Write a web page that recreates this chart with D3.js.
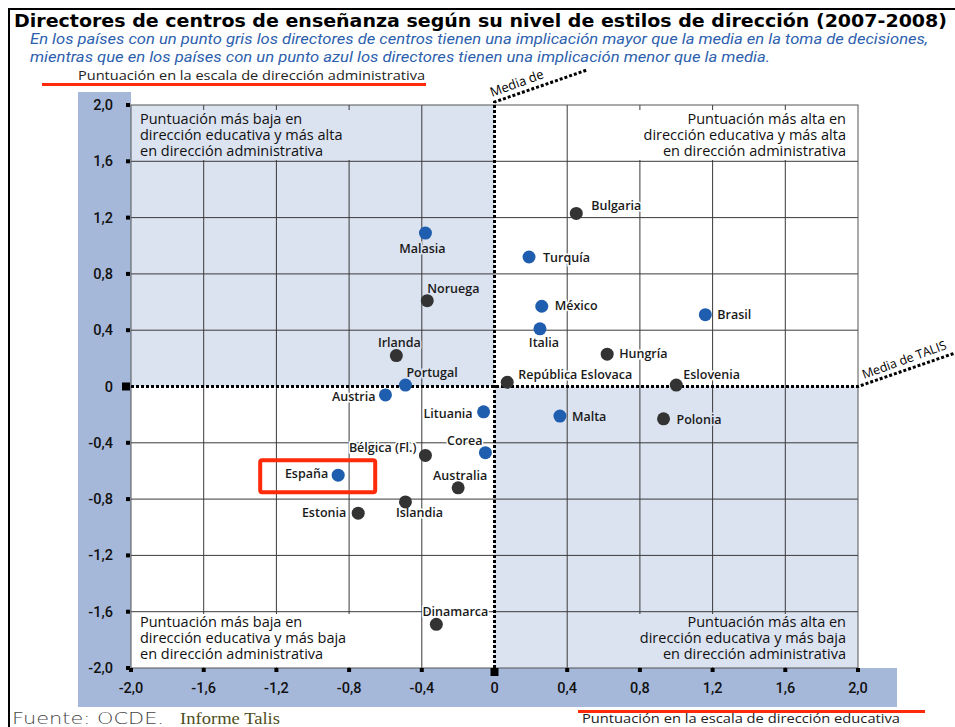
<!DOCTYPE html>
<html>
<head>
<meta charset="utf-8">
<script src="https://cdn.jsdelivr.net/npm/d3@7"></script>
<style>
  body { margin: 0; background: #fff; }
  svg { display: block; }
</style>
</head>
<body>
<script>
// datos (TALIS 2007-2008)
const paises = ["Bulgaria", "Malasia", "Turquía", "Noruega", "México", "Italia", "Brasil",
  "Irlanda", "Hungría", "Portugal", "República Eslovaca", "Eslovenia", "Austria", "Lituania",
  "Malta", "Polonia", "Corea", "Bélgica (Fl.)", "España", "Australia", "Islandia", "Estonia", "Dinamarca"];
const educativa = [0.45, -0.38, 0.19, -0.37, 0.26, 0.25, 1.16, -0.54, 0.62, -0.49, 0.07, 1.00,
  -0.60, -0.06, 0.36, 0.93, -0.05, -0.38, -0.86, -0.20, -0.49, -0.75, -0.32];
const administrativa = [1.23, 1.09, 0.92, 0.61, 0.57, 0.41, 0.51, 0.22, 0.23, 0.01, 0.03, 0.01,
  -0.06, -0.18, -0.21, -0.23, -0.47, -0.49, -0.63, -0.72, -0.82, -0.90, -1.69];
const punto = ["gris", "azul", "azul", "gris", "azul", "azul", "azul", "gris", "gris", "azul", "gris", "gris",
  "azul", "azul", "azul", "gris", "azul", "gris", "azul", "gris", "gris", "gris", "gris"];
const ticks = [-2, -1.6, -1.2, -0.8, -0.4, 0, 0.4, 0.8, 1.2, 1.6, 2];

// donde va cada etiqueta respecto al punto: [dx, dy, anchor]
const etiqueta = [[15, -3, "start"], [-3, 20, "middle"], [14, 5, "start"], [0, -8, "start"],
  [13, 4, "start"], [4, 18, "middle"], [12, 4, "start"], [3, -9, "middle"], [12, 4, "start"],
  [1, -8, "start"], [11, -3, "start"], [7, -6, "start"], [-10, 6, "end"], [-11, 6, "end"],
  [12, 5, "start"], [13, 5, "start"], [-3, -8, "end"], [-9, -3, "end"], [-10, 3, "end"],
  [2, -8, "middle"], [14, 15, "middle"], [-12, 4, "end"], [19, -8, "middle"]];

const W = 955, H = 727;
const azulClaro = "#dbe2f0", banda = "#a6b8da";
const fmt = v => v === 0 ? "0" : v.toFixed(1).replace(".", ",");

const svg = d3.select("body").append("svg")
  .attr("width", W).attr("height", H);

const x = d3.scaleLinear().domain([-2, 2]).range([131, 858]);
const y = d3.scaleLinear().domain([-2, 2]).range([668, 105]);

// marco
svg.append("path").attr("d", "M9,727V9H955").attr("fill", "none")
  .attr("stroke", "#000").attr("stroke-width", 2);

// bandas azules de los ejes
svg.append("rect").attr("x", 78).attr("y", 92).attr("width", x(-2) - 78).attr("height", 707 - 92)
  .attr("fill", banda);
svg.append("rect").attr("x", 78).attr("y", y(-2)).attr("width", 897 - 78).attr("height", 707 - y(-2))
  .attr("fill", banda);

// cuadrantes
const quad = [[-2, 0, 2, 0, azulClaro], [0, 2, 2, 0, "#fff"], [-2, 0, 0, -2, "#fff"], [0, 2, 0, -2, azulClaro]];
svg.selectAll("rect.q").data(quad).enter().append("rect").attr("class", "q")
  .attr("x", d => x(d[0])).attr("width", d => x(d[1]) - x(d[0]))
  .attr("y", d => y(d[2])).attr("height", d => y(d[3]) - y(d[2]))
  .attr("fill", d => d[4]);

// rejilla
const g = svg.append("g").attr("stroke", "#3a3a3a").attr("stroke-width", 1);
g.selectAll("line.v").data(ticks.filter(t => t !== 0 && Math.abs(t) < 2)).enter().append("line")
  .attr("x1", d => x(d)).attr("x2", d => x(d)).attr("y1", y(2)).attr("y2", y(-2));
g.selectAll("line.h").data(ticks.filter(t => t !== 0 && Math.abs(t) < 2)).enter().append("line")
  .attr("y1", d => y(d)).attr("y2", d => y(d)).attr("x1", x(-2)).attr("x2", x(2));
svg.append("rect").attr("x", x(-2)).attr("y", y(2)).attr("width", x(2) - x(-2)).attr("height", y(-2) - y(2))
  .attr("fill", "none").attr("stroke", "#555").attr("stroke-width", 1);

// textos de cuadrante (tapan la rejilla)
const qfont = "'Open Sans', sans-serif";
const cajas = [
  { x0: -2, x1: -0.72, top: true, fill: azulClaro, anchor: "start",
    lineas: ["Puntuación más baja en", "dirección educativa y más alta", "en dirección administrativa"] },
  { x0: 0.56, x1: 2, top: true, fill: "#fff", anchor: "end",
    lineas: ["Puntuación más alta en", "dirección educativa y más alta", "en dirección administrativa"] },
  { x0: -2, x1: -0.5, top: false, fill: "#fff", anchor: "start",
    lineas: ["Puntuación más baja en", "dirección educativa y más baja", "en dirección administrativa"] },
  { x0: 0.55, x1: 2, top: false, fill: azulClaro, anchor: "end",
    lineas: ["Puntuación más alta en", "dirección educativa y más baja", "en dirección administrativa"] }
];
cajas.forEach(c => {
  const y0 = c.top ? y(2) + 5 : 614;
  const y1 = c.top ? 160 : y(-2) - 1;
  svg.append("rect").attr("x", x(c.x0) + 1).attr("y", y0).attr("width", x(c.x1) - x(c.x0) - 2)
    .attr("height", y1 - y0).attr("fill", c.fill);
  const tx = c.anchor === "start" ? x(-2) + 9 : x(2) - 12;
  const by = c.top ? 124 : 627;
  svg.append("g").selectAll("text").data(c.lineas).enter().append("text")
    .attr("x", tx).attr("y", (d, i) => by + i * 16)
    .attr("text-anchor", c.anchor)
    .style("font-family", qfont).style("font-size", "14.5px").attr("fill", "#111")
    .text(d => d);
});

// lineas de la media
const media = svg.append("g").attr("fill", "none").attr("stroke", "#000")
  .attr("stroke-width", 3).attr("stroke-dasharray", "3,2");
media.append("path").attr("d", `M${x(0)},${y(-2)}V${y(2) - 3}L587,70`);
media.append("path").attr("d", `M${x(-2)},${y(0)}H${x(2)}L958,352`);
svg.append("text").attr("transform", "translate(492,97) rotate(-20)")
  .style("font-family", qfont).style("font-size", "13px").text("Media de");
svg.append("text").attr("transform", "translate(864,379) rotate(-20)")
  .style("font-family", qfont).style("font-size", "12.5px").text("Media de TALIS");

// ejes: marcas y etiquetas
const tfont = "Roboto, sans-serif";
svg.selectAll("rect.tx").data(ticks).enter().append("rect")
  .attr("x", d => x(d) - (d === 0 ? 4 : 2)).attr("y", y(-2))
  .attr("width", d => d === 0 ? 8 : 4).attr("height", d => d === 0 ? 8 : 4).attr("fill", "#000");
svg.selectAll("rect.ty").data(ticks).enter().append("rect")
  .attr("x", d => x(-2) - (d === 0 ? 9 : 5)).attr("y", d => y(d) - (d === 0 ? 4 : 2))
  .attr("width", d => d === 0 ? 8 : 4).attr("height", d => d === 0 ? 8 : 4).attr("fill", "#000");
svg.selectAll("text.tx").data(ticks).enter().append("text")
  .attr("x", d => x(d)).attr("y", 693).attr("text-anchor", "middle")
  .style("font-family", tfont).style("font-size", "14.5px").style("font-weight", 500).attr("fill", "#111")
  .text(fmt);
svg.selectAll("text.ty").data(ticks).enter().append("text")
  .attr("x", 113).attr("y", d => y(d) + 5).attr("text-anchor", "end")
  .style("font-family", tfont).style("font-size", "14.5px").style("font-weight", 500).attr("fill", "#111")
  .text(fmt);

// paises
const fondo = i => (educativa[i] < 0) === (administrativa[i] > 0) ? azulClaro : "#fff";
const pts = paises.map((p, i) => ({ p, i }));
svg.append("g").selectAll("text").data(pts).enter().append("text")
  .attr("x", d => x(educativa[d.i]) + etiqueta[d.i][0])
  .attr("y", d => y(administrativa[d.i]) + etiqueta[d.i][1])
  .attr("text-anchor", d => etiqueta[d.i][2])
  .style("font-family", qfont).style("font-size", "12.5px").style("font-weight", 600)
  .style("paint-order", "stroke").attr("stroke", d => fondo(d.i)).attr("stroke-width", 3)
  .attr("fill", "#1a1a1a")
  .text(d => d.p);
svg.append("g").selectAll("circle").data(pts).enter().append("circle")
  .attr("cx", d => x(educativa[d.i])).attr("cy", d => y(administrativa[d.i]))
  .attr("r", 6.5)
  .attr("fill", d => punto[d.i] === "azul" ? "#1f5eae" : "#333333");

// recuadro rojo de España
const ie = paises.indexOf("España");
svg.append("rect").attr("x", x(educativa[ie]) - 78).attr("y", y(administrativa[ie]) - 15)
  .attr("width", 115).attr("height", 32).attr("rx", 2)
  .attr("fill", "none").attr("stroke", "#ff2a0a").attr("stroke-width", 4);

// titulos
svg.append("text").attr("x", 14).attr("y", 27).attr("textLength", 933).attr("lengthAdjust", "spacingAndGlyphs")
  .style("font-family", "'DejaVu Sans', sans-serif").style("font-size", "17px").style("font-weight", 700)
  .text("Directores de centros de enseñanza según su nivel de estilos de dirección (2007-2008)");
const sub = ["En los países con un punto gris los directores de centros tienen una implicación mayor que la media en la toma de decisiones,",
  "mientras que en los países con un punto azul los directores tienen una implicación menor que la media."];
svg.selectAll("text.sub").data(sub).enter().append("text")
  .attr("x", 30).attr("y", (d, i) => 44 + i * 18)
  .attr("textLength", (d, i) => i ? 740 : 898).attr("lengthAdjust", "spacingAndGlyphs")
  .style("font-family", tfont).style("font-size", "15px").style("font-style", "italic")
  .attr("fill", "#2d5fae").text(d => d);

// titulos de ejes con subrayado rojo
svg.append("text").attr("x", 78).attr("y", 80).attr("textLength", 347).attr("lengthAdjust", "spacingAndGlyphs")
  .style("font-family", qfont).style("font-size", "12px").attr("fill", "#222")
  .text("Puntuación en la escala de dirección administrativa");
svg.append("line").attr("x1", 42).attr("x2", 426).attr("y1", 84.5).attr("y2", 84.5)
  .attr("stroke", "#ff2a0a").attr("stroke-width", 3);
svg.append("text").attr("x", 582).attr("y", 723).attr("textLength", 318).attr("lengthAdjust", "spacingAndGlyphs")
  .style("font-family", qfont).style("font-size", "12px").attr("fill", "#222")
  .text("Puntuación en la escala de dirección educativa");
svg.append("line").attr("x1", 578).attr("x2", 925).attr("y1", 711.5).attr("y2", 711.5)
  .attr("stroke", "#ff2a0a").attr("stroke-width", 3);

// fuente
svg.append("text").attr("x", 12).attr("y", 724).attr("textLength", 152).attr("lengthAdjust", "spacingAndGlyphs")
  .style("font-family", "'DejaVu Sans', sans-serif").style("font-size", "16px").style("font-weight", 300)
  .attr("fill", "#444").text("Fuente: OCDE.");
svg.append("text").attr("x", 180).attr("y", 724).attr("textLength", 100).attr("lengthAdjust", "spacingAndGlyphs")
  .style("font-family", "'Liberation Serif', serif").style("font-size", "17px")
  .attr("fill", "#4f4f1c").text("Informe Talis");
</script>
</body>
</html>
